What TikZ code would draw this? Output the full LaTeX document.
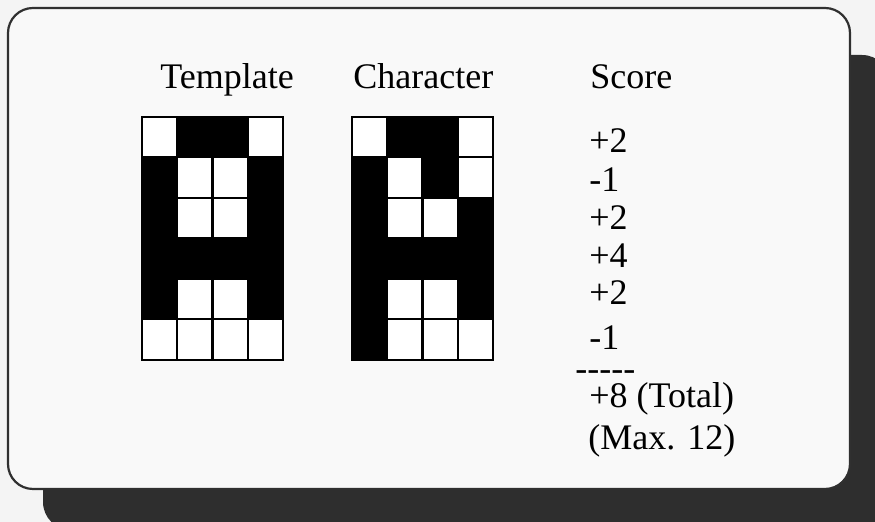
\documentclass[tikz,border=0pt]{standalone}
\usepackage{fontspec}
\setmainfont{Liberation Serif}
\usepackage{tikz}
\usetikzlibrary{positioning}
\definecolor{paperwhite}{HTML}{F4F4F4}
\definecolor{cardwhite}{HTML}{F9F9F9}
\definecolor{shadowgrey}{HTML}{2E2E2E}
\definecolor{rimgrey}{HTML}{303030}
\tikzset{
  card/.style        = {draw=rimgrey, line width=1.1pt, fill=cardwhite,
                        rounded corners=12.5pt},
  card shadow/.style = {fill=shadowgrey, rounded corners=14pt},
  pixel 0/.style     = {draw=black, line width=1pt, fill=white, inner sep=0pt,
                        outer sep=0pt, minimum width=17.6pt,
                        minimum height=20.25pt},
  pixel 1/.style     = {pixel 0, fill=black},
  heading/.style     = {anchor=base west, inner sep=0pt,
                        font=\fontsize{18}{21}\selectfont},
  score/.style       = {heading},
}

\begin{document}
\begin{tikzpicture}[x=0.5pt, y=-0.5pt]
  \useasboundingbox (0,0) rectangle (875,522);
  \fill[paperwhite] (0,0) rectangle (875,522);
  % card with its shadow
  \fill[card shadow] (43,55) rectangle (890,530);
  \draw[card] (8,8) rectangle (850,489);

  % column heads
  \node[heading] (template) at (160,89) {Template};
  \node[heading] (character) at (353,89) {Character};
  \node[heading] (score head) at (590,89) {Score};

  % the two 4x6 grids, row by row: template cells / character cells
  \foreach \row/\tcells/\ccells in {1/{0,1,1,0}/{0,1,1,0},
                                    2/{1,0,0,1}/{1,0,1,0},
                                    3/{1,0,0,1}/{1,0,0,1},
                                    4/{1,1,1,1}/{1,1,1,1},
                                    5/{1,0,0,1}/{1,0,0,1},
                                    6/{0,0,0,0}/{1,0,0,0}} {
    \foreach \on [count=\col] in \tcells
      \node[pixel \on] (t-\row-\col) at ({142+(\col-0.5)*35.25},{117+(\row-0.5)*40.5}) {};
    \foreach \on [count=\col] in \ccells
      \node[pixel \on] (c-\row-\col) at ({352+(\col-0.5)*35.25},{117+(\row-0.5)*40.5}) {};
  }

  % row scores
  \foreach \val/\ypos [count=\i] in {+2/153, -1/192, +2/230, +4/268, +2/305, -1/350}
    \node[score] (s\i) at (589,\ypos) {\val};
  \node[score] (rule) at (575,381) {-{}-{}-{}-{}-};
  \node[score] (total) at (589,408) {+8 (Total)};
  \node[score] (max) at (588,450) {(Max. 12)};
\end{tikzpicture}
\end{document}
